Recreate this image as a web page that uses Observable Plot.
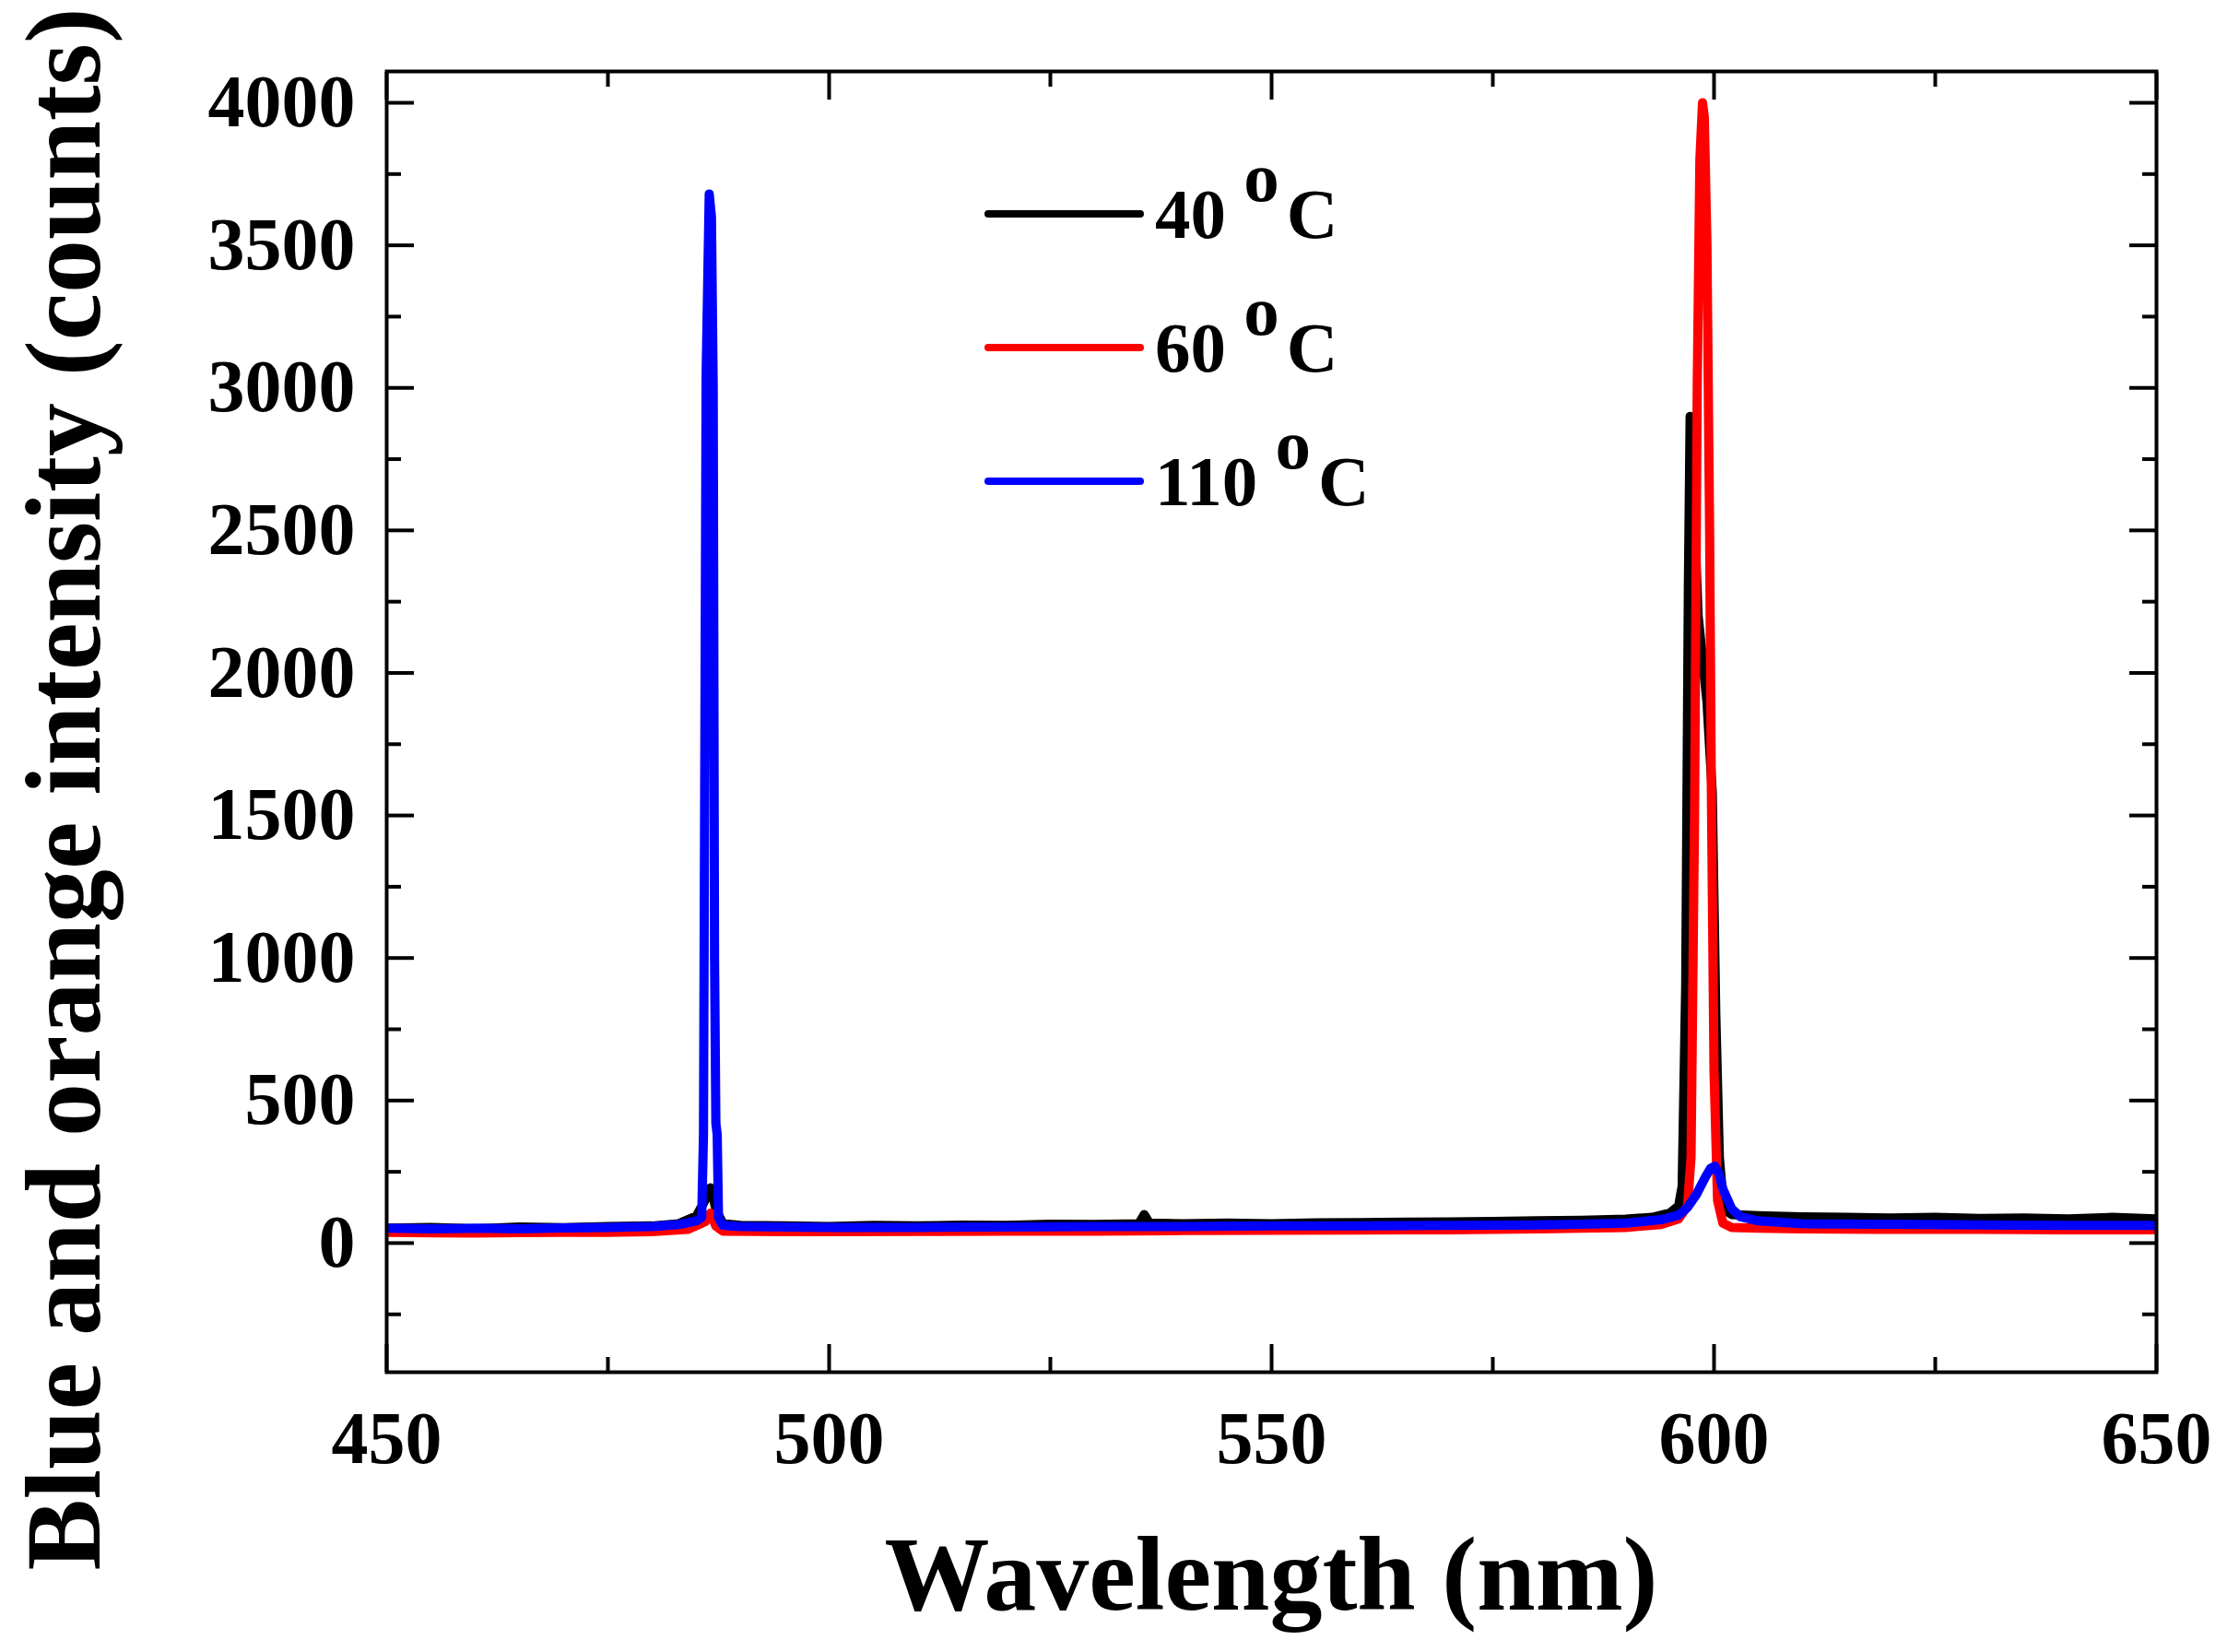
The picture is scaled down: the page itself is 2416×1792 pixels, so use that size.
<!DOCTYPE html>
<html lang="en">
<head>
<meta charset="UTF-8">
<title>Blue and orange intensity</title>
<script src="https://cdn.jsdelivr.net/npm/d3@7"></script>
<script src="https://cdn.jsdelivr.net/npm/@observablehq/plot@0.6"></script>
<style>
  body { margin: 0; background: #fff; }
  #chart svg { display: block; }
</style>
</head>
<body>
<div id="chart"></div>
<script>
// 40 oC spectrum (black)
const wl40 = [450, 455, 460, 465, 470, 475, 480, 483, 485, 485.8, 486.6, 487.3, 488,
  490, 495, 500, 505, 510, 515, 520, 525, 530, 535, 535.6, 536.2,
  540, 545, 550, 555, 560, 565, 570, 575, 580, 585, 590,
  593, 595, 596, 596.4, 596.8, 597.1, 597.3, 597.6, 598.2, 599.2, 599.8, 600.2, 600.6, 601.1, 602,
  605, 610, 615, 620, 625, 630, 635, 640, 645, 650];
const int40 = [52, 55, 50, 56, 54, 58, 60, 68, 95, 140, 194, 110, 68,
  62, 60, 58, 62, 60, 63, 62, 66, 65, 68, 100, 70,
  68, 70, 68, 71, 72, 73, 74, 76, 78, 80, 84,
  90, 105, 130, 200, 900, 2300, 2900, 2700, 2200, 1900, 1580, 800, 300, 120, 100,
  96, 92, 90, 88, 90, 86, 88, 85, 90, 85];

// 60 oC spectrum (red)
const wl60 = [450, 455, 460, 465, 470, 475, 480, 484, 486, 486.6, 487.2, 488,
  495, 500, 510, 520, 530, 540, 550, 560, 570, 580, 590,
  594, 596, 597, 597.4, 597.8, 598.1, 598.4, 598.7, 598.9, 599.2, 599.5, 599.7, 600.0, 600.4, 601, 602,
  605, 610, 620, 630, 640, 650];
const int60 = [38, 36, 35, 37, 38, 38, 40, 48, 75, 105, 60, 42,
  40, 40, 41, 42, 42, 44, 45, 46, 47, 50, 55,
  65, 85, 130, 300, 1500, 3000, 3800, 4000, 3950, 3500, 2500, 1580, 600, 150, 70, 55,
  52, 50, 48, 48, 47, 47];

// 110 oC spectrum (blue)
const wl110 = [450, 455, 460, 465, 470, 475, 480, 483, 485,
  485.6, 485.8, 486.1, 486.45, 486.7, 486.9, 487.05, 487.2, 487.35, 487.5, 488,
  490, 495, 500, 510, 520, 530, 540, 550, 560, 570, 580, 585, 590,
  594, 596, 597, 598, 599, 599.6, 600.1, 600.6, 601, 602, 603, 605,
  610, 620, 630, 640, 650];
const int110 = [52, 50, 52, 50, 53, 55, 58, 65, 78,
  90, 380, 3050, 3680, 3600, 3000, 1000, 420, 380, 90, 62,
  58, 56, 55, 55, 56, 58, 58, 60, 60, 62, 64, 66, 70,
  82, 98, 125, 170, 230, 262, 270, 240, 190, 120, 92, 78,
  68, 66, 64, 62, 62];

const seriesNames = ["40", "60", "110"];
const seriesColors = ["#000000", "#ff0000", "#0000ff"];

const xMajor = [450, 500, 550, 600, 650];
const xMinor = [475, 525, 575, 625];
const yMajor = [0, 500, 1000, 1500, 2000, 2500, 3000, 3500, 4000];
const yMinor = [-250, 250, 750, 1250, 1750, 2250, 2750, 3250, 3750];

const rows = [];
[[wl40, int40], [wl60, int60], [wl110, int110]].forEach(([w, v], s) => {
  w.forEach((x, i) => rows.push({series: seriesNames[s], wl: x, val: v[i]}));
});

const font = "'Liberation Serif', 'Times New Roman', serif";
const blank = () => "";
const plain = (d) => String(d);

const chart = Plot.plot({
  width: 2416,
  height: 1792,
  marginLeft: 419,
  marginRight: 77,
  marginTop: 77,
  marginBottom: 304,
  style: {fontFamily: font, fontWeight: "bold", background: "#fff", color: "#000"},
  x: {domain: [450, 650]},
  y: {domain: [-453, 4110]},
  color: {domain: seriesNames, range: seriesColors},
  marks: [
    Plot.line(rows, {x: "wl", y: "val", z: "series", stroke: "series", strokeWidth: 10, strokeLinecap: "butt", strokeLinejoin: "round"}),
    Plot.frame({stroke: "#000", strokeWidth: 4}),
    // bottom / left with labels
    Plot.axisX(xMajor, {anchor: "bottom", tickSize: -30, tickPadding: 72, tickFormat: plain, strokeWidth: 4, fontSize: 80, label: null}),
    Plot.axisX(xMinor, {anchor: "bottom", tickSize: -16, tickFormat: blank, strokeWidth: 4, label: null}),
    Plot.axisY(yMajor, {anchor: "left", tickSize: -30, tickPadding: 64, tickFormat: plain, strokeWidth: 4, fontSize: 80, label: null}),
    Plot.axisY(yMinor, {anchor: "left", tickSize: -16, tickFormat: blank, strokeWidth: 4, label: null}),
    // top / right ticks only
    Plot.axisX(xMajor, {anchor: "top", tickSize: -30, tickFormat: blank, strokeWidth: 4, label: null}),
    Plot.axisX(xMinor, {anchor: "top", tickSize: -16, tickFormat: blank, strokeWidth: 4, label: null}),
    Plot.axisY(yMajor, {anchor: "right", tickSize: -30, tickFormat: blank, strokeWidth: 4, label: null}),
    Plot.axisY(yMinor, {anchor: "right", tickSize: -16, tickFormat: blank, strokeWidth: 4, label: null})
  ]
});

const svg = d3.select(chart);
const xr = chart.scale("x").range;

// axis titles
svg.append("text")
  .attr("x", (xr[0] + xr[1]) / 2)
  .attr("y", 1746)
  .attr("text-anchor", "middle")
  .attr("font-size", 114)
  .attr("fill", "#000")
  .text("Wavelength (nm)");

svg.append("text")
  .attr("transform", "translate(108,856) rotate(-90)")
  .attr("text-anchor", "middle")
  .attr("font-size", 116)
  .attr("fill", "#000")
  .text("Blue and orange intensity (counts)");

// legend
const legend = svg.append("g").attr("font-size", 77).attr("fill", "#000").attr("text-anchor", "start");
seriesNames.forEach((name, i) => {
  const y = 232 + 145 * i;
  legend.append("line")
    .attr("x1", 1072).attr("x2", 1237)
    .attr("y1", y).attr("y2", y)
    .attr("stroke", seriesColors[i])
    .attr("stroke-width", 8)
    .attr("stroke-linecap", "round");
  const t = legend.append("text").attr("x", 1253).attr("y", y + 26);
  t.append("tspan").text(name + " ");
  t.append("tspan").attr("dy", -40).text("o");
  t.append("tspan").attr("dy", 40).attr("dx", 8).text("C");
});

document.getElementById("chart").appendChild(chart);
</script>
</body>
</html>
